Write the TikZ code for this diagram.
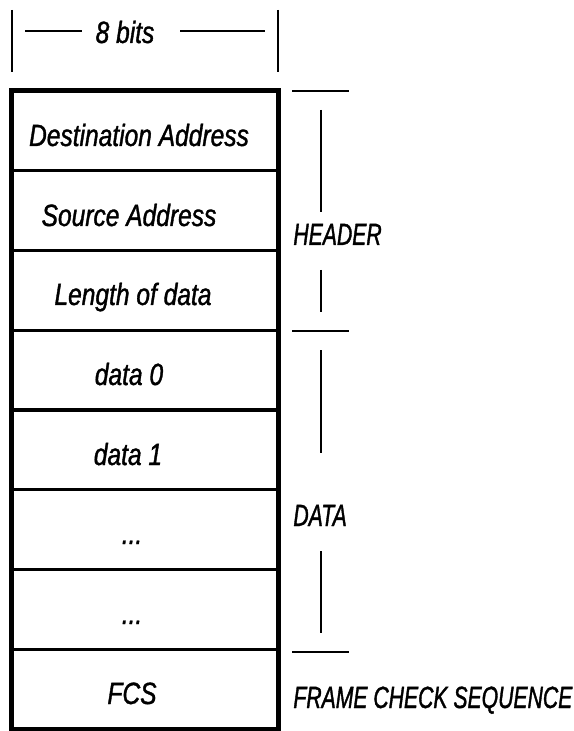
\documentclass[tikz,border=0pt]{standalone}
\usepackage{fontspec}
\newfontfamily\fieldfont{Liberation Sans}[FakeStretch=0.8, FakeBold=1.2]
\newfontfamily\sidefont{Liberation Sans}[FakeStretch=0.69, FakeBold=1.2]
\tikzset{
  field/.style={draw, line width=1.5pt, minimum width=132.5pt, minimum height=39.875pt, inner sep=0pt},
  fieldtext/.style={anchor=base, inner sep=0pt, font=\fieldfont\itshape\fontsize{15.35}{18}\selectfont},
  sidetext/.style={anchor=base west, inner sep=0pt, font=\sidefont\itshape\fontsize{15.35}{18}\selectfont},
  bracketline/.style={line width=0.8pt}
}
\begin{document}
\begin{tikzpicture}[x=0.5pt,y=-0.5pt]
      \useasboundingbox (0,0) rectangle (573,731);
      % frame fields
      \draw
        (144.5,130.9) node[field] (dst){}
        (144.5,210.6) node[field] (src){}
        (144.5,290.4) node[field] (len){}
        (144.5,370.1) node[field] (data0){}
        (144.5,449.9) node[field] (data1){}
        (144.5,529.6) node[field] (dots0){}
        (144.5,609.4) node[field] (dots1){}
        (144.5,689.1) node[field] (fcs){};
      \draw[line width=2pt] (dst.north west) rectangle (fcs.south east);
      \draw
        (139,146) node[fieldtext] (dsttext){Destination Address}
        (129,226) node[fieldtext] (srctext){Source Address}
        (133,305) node[fieldtext] (lentext){Length of data}
        (129,385) node[fieldtext] (data0text){data 0}
        (128,465) node[fieldtext] (data1text){data 1}
        (132,544) node[fieldtext] (dots0text){...}
        (132,624) node[fieldtext] (dots1text){...}
        (132,704) node[fieldtext] (fcstext){FCS};
      % width marker
      \draw (125,43) node[fieldtext] (width){8 bits};
      \begin{scope}[bracketline]
        \draw (12,10) to (12,72);
        \draw (278,10) to (278,72);
        \draw (25,31) to (82,31);
        \draw (180,31) to (265,31);
      \end{scope}
      % side labels
      \draw
        (293,245) node[sidetext] (header){HEADER}
        (293,526) node[sidetext] (data){DATA}
        (293,708) node[sidetext] (fcslabel){FRAME CHECK SEQUENCE};
      \begin{scope}[bracketline]
        \draw (292,91) to (349,91);
        \draw (292,331) to (349,331);
        \draw (292,652) to (349,652);
        \draw (321,110) to (321,212);
        \draw (321,270) to (321,312);
        \draw (321,350) to (321,453);
        \draw (321,551) to (321,633);
      \end{scope}
    \end{tikzpicture}
\end{document}
